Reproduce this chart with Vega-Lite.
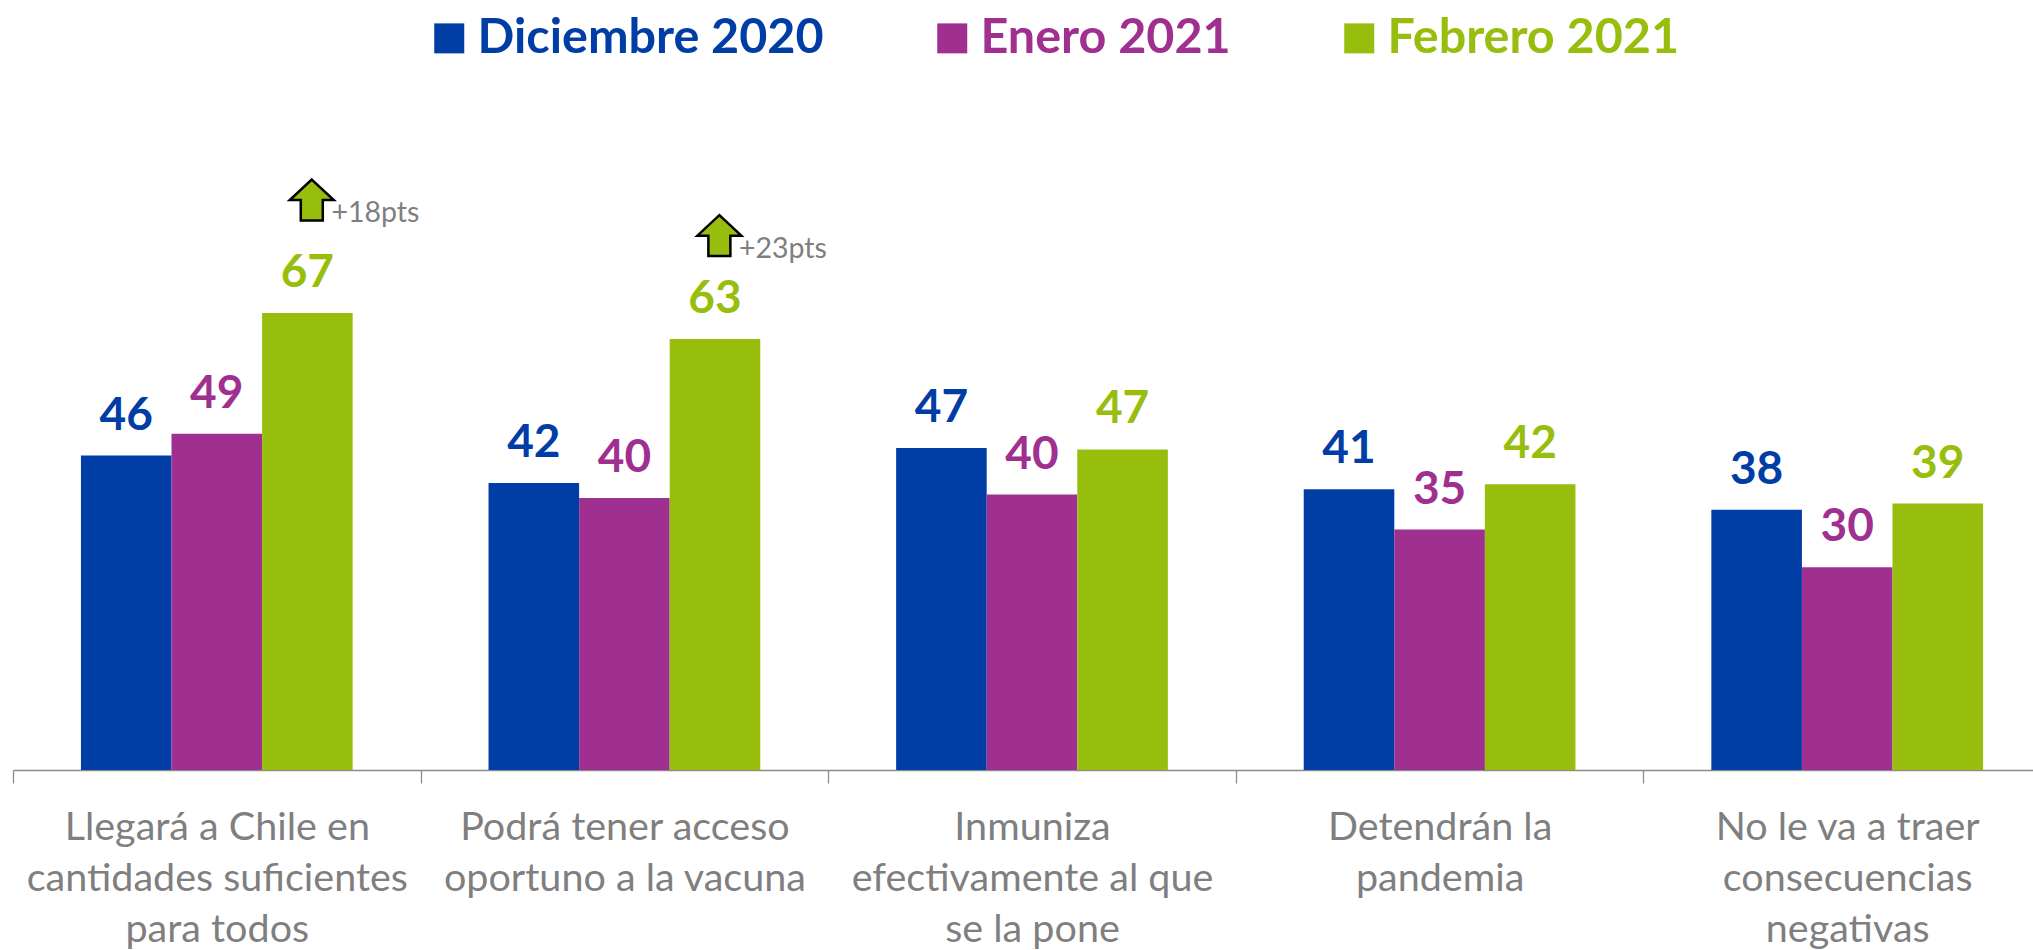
{
"$schema":"https://vega.github.io/schema/vega-lite/v6.json",
"width":2020,"height":770,
"autosize":{"type":"none"},
"padding":{"left":13,"top":0,"right":0,"bottom":180},
"background":"white",
"config":{"view":{"stroke":null},"font":"Lato"},
"datasets":{
"barras":[
{"pregunta":"Llegará a Chile en|cantidades suficientes|para todos","serie":"Diciembre 2020","valor":45.9},
{"pregunta":"Llegará a Chile en|cantidades suficientes|para todos","serie":"Enero 2021","valor":49.1},
{"pregunta":"Llegará a Chile en|cantidades suficientes|para todos","serie":"Febrero 2021","valor":66.7},
{"pregunta":"Podrá tener acceso|oportuno a la vacuna","serie":"Diciembre 2020","valor":41.9},
{"pregunta":"Podrá tener acceso|oportuno a la vacuna","serie":"Enero 2021","valor":39.7},
{"pregunta":"Podrá tener acceso|oportuno a la vacuna","serie":"Febrero 2021","valor":62.9},
{"pregunta":"Inmuniza|efectivamente al que|se la pone","serie":"Diciembre 2020","valor":47.0},
{"pregunta":"Inmuniza|efectivamente al que|se la pone","serie":"Enero 2021","valor":40.2},
{"pregunta":"Inmuniza|efectivamente al que|se la pone","serie":"Febrero 2021","valor":46.8},
{"pregunta":"Detendrán la|pandemia","serie":"Diciembre 2020","valor":41.0},
{"pregunta":"Detendrán la|pandemia","serie":"Enero 2021","valor":35.1},
{"pregunta":"Detendrán la|pandemia","serie":"Febrero 2021","valor":41.7},
{"pregunta":"No le va a traer|consecuencias|negativas","serie":"Diciembre 2020","valor":38.0},
{"pregunta":"No le va a traer|consecuencias|negativas","serie":"Enero 2021","valor":29.6},
{"pregunta":"No le va a traer|consecuencias|negativas","serie":"Febrero 2021","valor":38.9}
],
"alzas":[
{"pregunta":"Llegará a Chile en|cantidades suficientes|para todos","serie":"Febrero 2021","cota":83.2,"texto":"+18pts"},
{"pregunta":"Podrá tener acceso|oportuno a la vacuna","serie":"Febrero 2021","cota":78.0,"texto":"+23pts"}
]},
"encoding":{
"x":{"field":"pregunta","type":"nominal","sort":null,
"scale":{"range":[0,2038],"paddingInner":0,"paddingOuter":0},
"axis":{"title":null,"labelAngle":0,"labelLimit":0,"tickBand":"extent","tickSize":13,"tickColor":"#8c8c8c","tickWidth":1.3,"domainColor":"#8c8c8c","domainWidth":1.5,"labelColor":"#7f7f7f","labelFontSize":39.5,"labelFont":"Lato","labelLineHeight":51,"labelPadding":25,"labelExpr":"split(datum.label,'|')"}},
"xOffset":{"field":"serie","type":"nominal","sort":["Diciembre 2020","Enero 2021","Febrero 2021"],"scale":{"paddingInner":0,"paddingOuter":0.75}},
"y":{"type":"quantitative","scale":{"domain":[0,112.4],"nice":false,"zero":true},"axis":null}
},
"layer":[
{"data":{"name":"barras"},"mark":{"type":"bar"},
"encoding":{"y":{"field":"valor","type":"quantitative"},
"color":{"field":"serie","type":"nominal","sort":["Diciembre 2020","Enero 2021","Febrero 2021"],
"scale":{"domain":["Diciembre 2020","Enero 2021","Febrero 2021"],"range":["#003DA5","#A03090","#97BE0D"]},
"legend":{"title":null,"orient":"none","legendX":412,"legendY":14,"direction":"horizontal","columns":3,"columnPadding":104,"symbolType":"square","symbolSize":900,"symbolOffset":0,"labelFontSize":48.5,"labelFontWeight":"bold","labelFont":"Lato","labelOffset":4,"labelLimit":600,
"labelColor":{"expr":"datum.value=='Diciembre 2020'?'#003DA5':datum.value=='Enero 2021'?'#A03090':'#97BE0D'"}}}}},
{"data":{"name":"barras"},"mark":{"type":"text","fontSize":46,"fontWeight":"bold","baseline":"alphabetic","dy":-26,"align":"center"},
"encoding":{"y":{"field":"valor","type":"quantitative"},"text":{"field":"valor","type":"quantitative","format":".0f"},
"color":{"field":"serie","type":"nominal","legend":null}}},
{"data":{"name":"alzas"},"mark":{"type":"point","shape":"M.2,-.93 L1.2,0 L.7,0 L.7,.93 L-.3,.93 L-.3,0 L-.8,0 Z","size":1936,"filled":true,"fill":"#97BE0D","stroke":"black","strokeWidth":2.5,"opacity":1},
"encoding":{"y":{"field":"cota","type":"quantitative"}}},
{"data":{"name":"alzas"},"mark":{"type":"text","fontSize":28.5,"color":"#7f7f7f","align":"left","baseline":"middle","dx":24,"dy":13},
"encoding":{"y":{"field":"cota","type":"quantitative"},"text":{"field":"texto"}}}
]
}
